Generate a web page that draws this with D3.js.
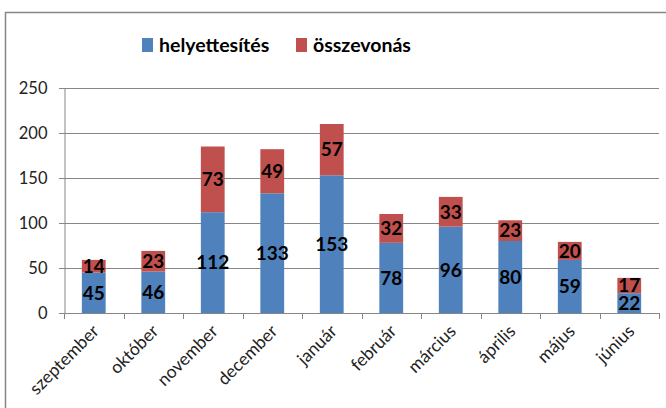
<!DOCTYPE html>
<html>
<head>
<meta charset="utf-8">
<script src="https://cdn.jsdelivr.net/npm/d3@7"></script>
<style>
  body { margin: 0; background: #fff; }
  svg { display: block; font-family: Lato, 'Open Sans', sans-serif; }
</style>
</head>
<body>
<svg id="chart" width="666" height="408"></svg>
<script>
const months = ['szeptember', 'október', 'november', 'december', 'január', 'február', 'március', 'április', 'május', 'június']
const helyettesites = [45, 46, 112, 133, 153, 78, 96, 80, 59, 22]
const osszevonas = [14, 23, 73, 49, 57, 32, 33, 23, 20, 17]
const seriesNames = ['helyettesítés', 'összevonás']
const colors = ['#4f81bd', '#c0504d']
const yTicks = [0, 50, 100, 150, 200, 250]

const svg = d3.select('#chart')

// chart frame (cut off right and bottom like the source)
svg.append('rect')
  .attr('x', 5.5).attr('y', 12.5)
  .attr('width', 700).attr('height', 420)
  .attr('fill', '#fff')
  .attr('stroke', '#868686')
  .attr('stroke-width', 1.5)

const margin = { left: 64 }
const x = d3.scaleBand()
  .domain(months)
  .range([margin.left, 659])
  .paddingInner(0.6)
  .paddingOuter(0.3)
const y = d3.scaleLinear().domain([0, 250]).range([313, 88])

// gridlines
svg.append('g')
  .selectAll('line')
  .data(yTicks.slice(1))
  .enter().append('line')
    .attr('x1', 59).attr('x2', 659)
    .attr('y1', function (d) { return Math.round(y(d)) + 0.5 })
    .attr('y2', function (d) { return Math.round(y(d)) + 0.5 })
    .attr('stroke', '#868686')

// y axis
const yAxis = svg.append('g')
  .attr('transform', 'translate(' + (margin.left + 0.5) + ',0)')
  .call(d3.axisLeft(y).tickValues(yTicks).tickSize(5).tickPadding(12))
yAxis.select('.domain').attr('stroke', '#868686')
yAxis.selectAll('.tick line').attr('stroke', '#868686')
yAxis.selectAll('text')
  .attr('fill', '#222')
  .style('font-size', '16.5px')
  .style('font-family', 'Lato, sans-serif')

// stacked bars
const table = months.map(function (m, i) {
  return { month: m, helyettesites: helyettesites[i], osszevonas: osszevonas[i] }
})
const stack = d3.stack().keys(['helyettesites', 'osszevonas'])(table)

const layers = svg.selectAll('g.layer')
  .data(stack)
  .enter().append('g')
    .attr('class', 'layer')
    .attr('fill', function (d, i) { return colors[i] })

layers.selectAll('rect')
  .data(function (d) { return d })
  .enter().append('rect')
    .attr('x', function (d) { return x(d.data.month) })
    .attr('width', x.bandwidth())
    .attr('y', function (d) { return y(d[1]) })
    .attr('height', function (d) { return y(d[0]) - y(d[1]) })

layers.selectAll('text')
  .data(function (d) { return d })
  .enter().append('text')
    .attr('x', function (d) { return x(d.data.month) + x.bandwidth() / 2 })
    .attr('y', function (d) { return (y(d[0]) + y(d[1])) / 2 })
    .attr('dy', '0.36em')
    .attr('text-anchor', 'middle')
    .attr('fill', '#000')
    .style('font-size', '19px')
    .style('font-weight', 'bold')
    .text(function (d) { return d[1] - d[0] })

// x axis
const xAxis = svg.append('g')
  .attr('transform', 'translate(0,313.5)')
  .call(d3.axisBottom(x).tickSize(0).tickFormat(''))
xAxis.select('.domain').attr('stroke', '#868686').attr('d', 'M59,0H659')
const step = x.step()
svg.append('g')
  .selectAll('line')
  .data(d3.range(months.length + 1))
  .enter().append('line')
    .attr('x1', function (i) { return Math.round(margin.left + i * step) + 0.5 })
    .attr('x2', function (i) { return Math.round(margin.left + i * step) + 0.5 })
    .attr('y1', 313).attr('y2', 319)
    .attr('stroke', '#868686')

svg.append('g')
  .selectAll('text')
  .data(months)
  .enter().append('text')
    .attr('transform', function (d) {
      return 'translate(' + (x(d) + x.bandwidth() / 2 + 2) + ',328) rotate(-45)'
    })
    .attr('text-anchor', 'end')
    .attr('dy', '0.35em')
    .attr('fill', '#222')
    .style('font-size', '17.5px')
    .text(function (d) { return d })

// legend
const legend = svg.append('g')
const legendX = [142, 296]
seriesNames.forEach(function (name, i) {
  legend.append('rect')
    .attr('x', legendX[i]).attr('y', 38)
    .attr('width', 11).attr('height', 14)
    .attr('fill', colors[i])
  legend.append('text')
    .attr('x', legendX[i] + 17).attr('y', 45)
    .attr('dy', '0.36em')
    .attr('fill', '#000')
    .style('font-size', '19.5px')
    .style('font-weight', 'bold')
    .text(name)
})
</script>
</body>
</html>
